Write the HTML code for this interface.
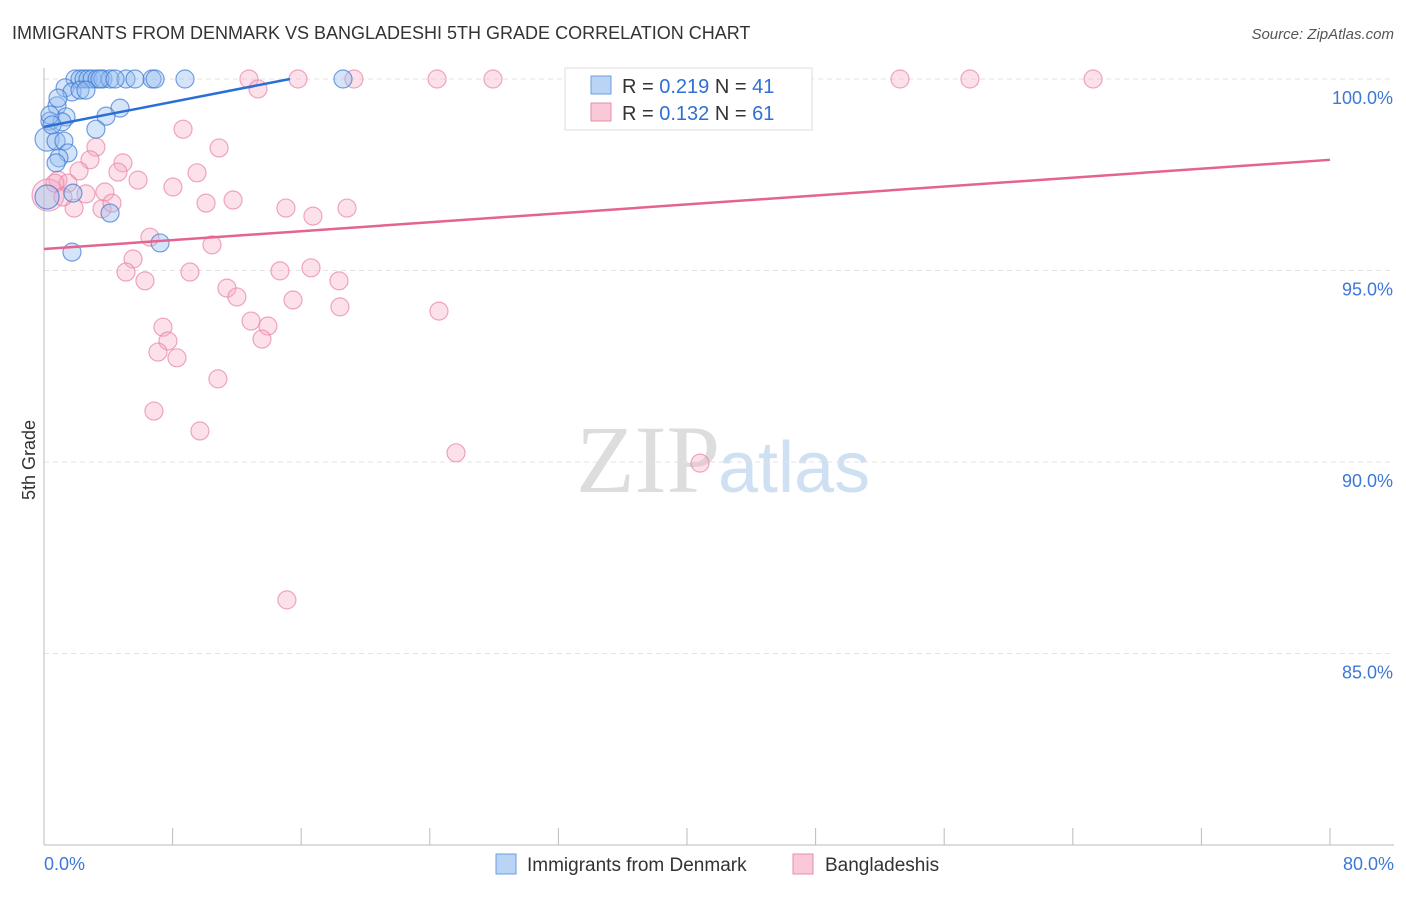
<!DOCTYPE html>
<html><head><meta charset="utf-8"><style>
body{margin:0;background:#fff;font-family:"Liberation Sans",sans-serif}
</style></head><body>
<svg width="1406" height="892" xmlns="http://www.w3.org/2000/svg">
<text x="12" y="39" font-size="18" fill="#333">IMMIGRANTS FROM DENMARK VS BANGLADESHI 5TH GRADE CORRELATION CHART</text>
<text x="1394" y="39" font-size="15" fill="#555" font-style="italic" text-anchor="end">Source: ZipAtlas.com</text>
<text x="35" y="460" font-size="18" fill="#333" transform="rotate(-90 35 460)" text-anchor="middle">5th Grade</text>
<text x="720" y="492" font-size="96" fill="#ddd" font-family="Liberation Serif,serif" text-anchor="end">ZIP</text>
<text x="718" y="492" font-size="72" fill="#cfe0f3">atlas</text>
<g id="grid"></g><g id="axes"></g><g id="pts"></g><g id="trend"></g>
<g>
<rect x="565" y="68" width="247" height="62" fill="#fff" stroke="#ddd"/>
<rect x="591" y="76" width="20" height="18" fill="#b9d4f5" stroke="#6d9ee0"/>
<text x="622" y="93" font-size="20" fill="#333">R = <tspan fill="#2f6fd6">0.219</tspan>   N = <tspan fill="#2f6fd6">41</tspan></text>
<rect x="591" y="103" width="20" height="18" fill="#f9c9d7" stroke="#e58fab"/>
<text x="622" y="120" font-size="20" fill="#333">R = <tspan fill="#2f6fd6">0.132</tspan>   N = <tspan fill="#2f6fd6">61</tspan></text>
</g>
<g>
<rect x="496" y="854" width="20" height="20" fill="#b9d4f5" stroke="#6d9ee0"/>
<text x="527" y="871" font-size="19" fill="#333">Immigrants from Denmark</text>
<rect x="793" y="854" width="20" height="20" fill="#f9c9d7" stroke="#e58fab"/>
<text x="825" y="871" font-size="19" fill="#333">Bangladeshis</text>
</g>
</svg>
<script>
const blueX=[1.93,2.24,2.49,2.74,2.99,3.30,3.67,4.11,5.10,6.72,6.91,8.77,18.6,1.31,1.74,2.24,2.61,0.81,4.73,3.86,1.37,0.37,1.12,3.23,0.19,0.75,1.24,1.49,0.93,0.75,1.80,0.19,4.11,7.22,1.74,0.37,0.50,0.87,3.48,4.42,5.66];
const blueY=[100,100,100,100,100,100,100,100,100,100,100,100,100,99.77,99.66,99.71,99.71,99.30,99.24,99.03,99.01,98.90,98.88,98.69,98.43,98.38,98.38,98.07,97.94,97.81,97.02,96.92,96.50,95.72,95.48,99.06,98.80,99.50,100,100,100];
const pinkX=[12.75,15.8,19.28,24.45,27.93,53.25,57.6,65.26,13.31,8.65,10.89,3.23,4.91,2.86,2.18,4.60,9.52,5.85,8.02,3.79,2.61,0.87,11.76,10.08,15.05,16.73,18.85,1.87,3.61,4.23,6.59,10.45,5.54,5.10,9.08,6.28,14.68,16.61,18.35,11.38,12.0,15.49,18.41,24.57,12.88,7.40,13.93,7.71,13.56,7.09,8.27,10.82,6.84,9.70,25.63,40.81,15.11,0.25,1.49,0.68,1.18];
const pinkY=[100,100,100,100,100,100,100,100,99.74,98.69,98.20,98.22,97.81,97.89,97.60,97.57,97.55,97.36,97.18,97.05,97.00,97.36,96.84,96.76,96.63,96.42,96.63,96.63,96.61,96.76,95.87,95.67,95.30,94.96,94.96,94.73,94.99,95.07,94.73,94.54,94.31,94.23,94.05,93.94,93.68,93.52,93.55,93.16,93.21,92.87,92.72,92.17,91.33,90.81,90.24,89.97,86.40,96.97,97.28,97.28,96.92];
const blueTrendX=[0,15.3];const blueTrendY=[98.75,100];
const pinkTrendX=[0,80];const pinkTrendY=[95.56,97.89];
const yTicks=[100,95,90,85];const yTickLabels=["100.0%","95.0%","90.0%","85.0%"];
const xTickLabels=["0.0%","80.0%"];
const NS="http://www.w3.org/2000/svg";
const sx=v=>44+v*(1286/80), sy=v=>79+(100-v)*38.3;
function mk(t,a,p){const e=document.createElementNS(NS,t);for(const k in a)e.setAttribute(k,a[k]);document.getElementById(p).appendChild(e);return e;}
yTicks.forEach((v,i)=>{
 const l=mk('line',{x1:44,x2:1394,y1:sy(v),y2:sy(v),stroke:'#e3e3e3','stroke-dasharray':'5,4'},'grid');
 
 
 const t=mk('text',{x:1393,y:sy(v)+25,'font-size':18,fill:'#3d78d8','text-anchor':'end'},'grid');t.textContent=yTickLabels[i];
 
 
});
let ax=mk('line',{x1:44,x2:44,y1:68,y2:845,stroke:'#bbb'},'axes');


ax=mk('line',{x1:44,x2:1394,y1:845,y2:845,stroke:'#bbb'},'axes');


for(let i=0;i<=10;i++){const x=sx(i*8);const t=mk('line',{x1:x,x2:x,y1:828,y2:845,stroke:'#bbb'},'axes');
 
 }
[[0,'start',44],[80,'end',1394]].forEach((d,i)=>{const t=mk('text',{x:d[2],y:870,'font-size':18,fill:'#3d78d8','text-anchor':d[1]},'axes');t.textContent=xTickLabels[i];
 
 });
pinkX.forEach((x,i)=>{const c=mk('circle',{cx:sx(x),cy:sy(pinkY[i]),r:i==57?16:9,fill:'rgba(246,170,195,0.35)',stroke:'rgba(232,130,165,0.7)','stroke-width':1.2},'pts');
 
 });
blueX.forEach((x,i)=>{const c=mk('circle',{cx:sx(x),cy:sy(blueY[i]),r:(i==24||i==31)?12:9,fill:'rgba(150,190,240,0.4)',stroke:'rgba(60,120,210,0.7)','stroke-width':1.2},'pts');
 
 });
let tl=mk('line',{x1:sx(blueTrendX[0]),y1:sy(blueTrendY[0]),x2:sx(blueTrendX[1]),y2:sy(blueTrendY[1]),stroke:'#2a6fd6','stroke-width':2.5},'trend');


tl=mk('line',{x1:sx(pinkTrendX[0]),y1:sy(pinkTrendY[0]),x2:sx(pinkTrendX[1]),y2:sy(pinkTrendY[1]),stroke:'#e4638f','stroke-width':2.5},'trend');


</script>
</body></html>
